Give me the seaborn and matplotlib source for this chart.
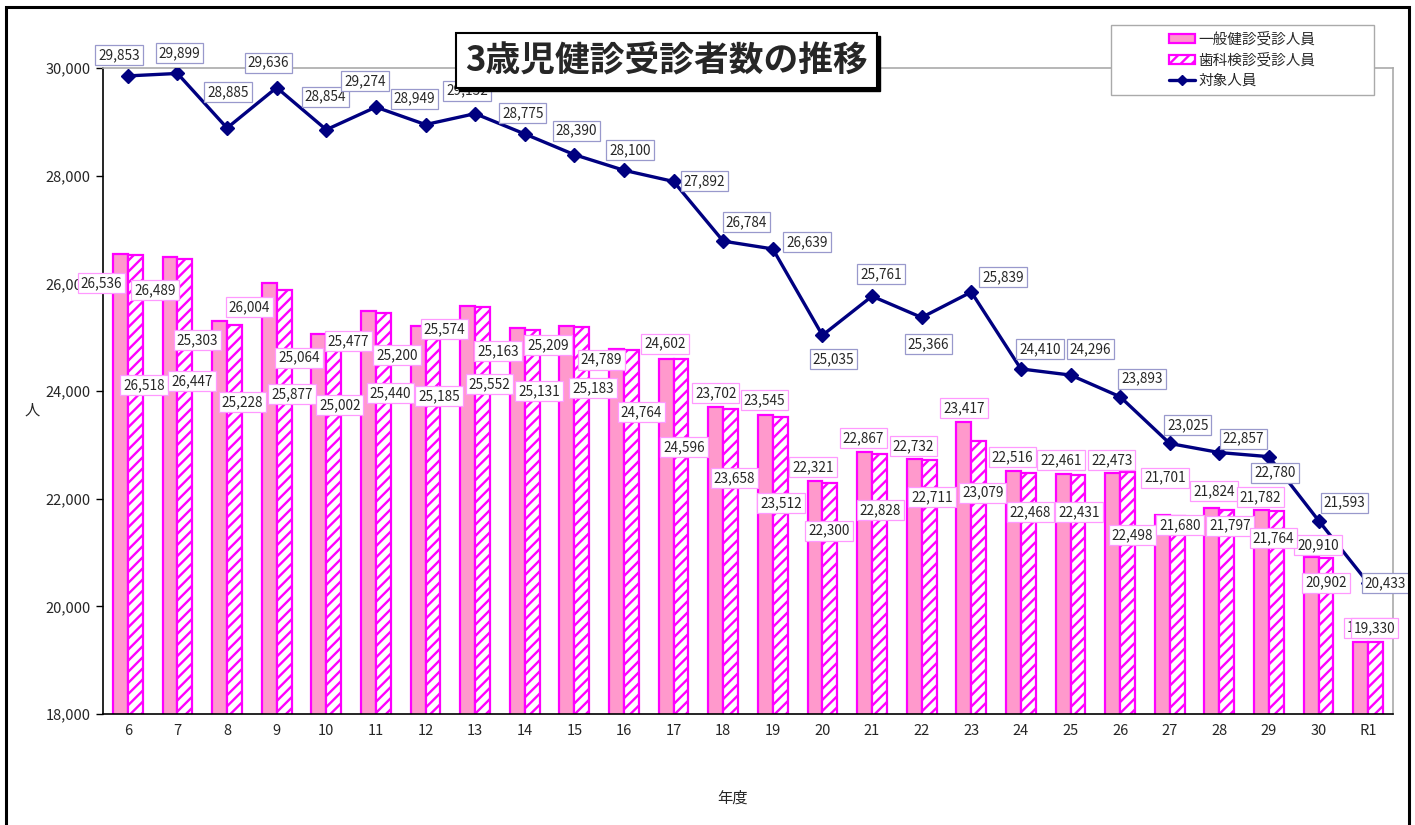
import numpy as np
import pandas as pd
import matplotlib.pyplot as plt
import matplotlib.patches as mpatches
from matplotlib.lines import Line2D
import seaborn as sns

# data
years = ["6", "7", "8", "9", "10", "11", "12", "13", "14", "15", "16", "17", "18",
         "19", "20", "21", "22", "23", "24", "25", "26", "27", "28", "29", "30", "R1"]
general = [26536, 26489, 25303, 26004, 25064, 25477, 25200, 25574, 25163, 25209,
           24789, 24602, 23702, 23545, 22321, 22867, 22732, 23417, 22516, 22461,
           22473, 21701, 21824, 21782, 20910, 19345]
dental = [26518, 26447, 25228, 25877, 25002, 25440, 25185, 25552, 25131, 25183,
          24764, 24596, 23658, 23512, 22300, 22828, 22711, 23079, 22468, 22431,
          22498, 21680, 21797, 21764, 20902, 19330]
target = [29853, 29899, 28885, 29636, 28854, 29274, 28949, 29152, 28775, 28390,
          28100, 27892, 26784, 26639, 25035, 25761, 25366, 25839, 24410, 24296,
          23893, 23025, 22857, 22780, 21593, 20433]

names = ["一般健診受診人員", "歯科検診受診人員", "対象人員"]

# label offsets in pixels (dx, dy up) from each point, as placed in the original
gen_off = [(-19, -29), (-15, -33), (-22, -19), (-20, -24), (-20, -24), (-20, -30),
           (-21, -29), (-23, -23), (-19, -23), (-19, -19), (-15, -11), (-1, 15),
           (0, 14), (-1, 15), (-2, 14), (-1, 14), (-1, 13), (0, 14), (-1, 14),
           (-2, 14), (-1, 13), (3, 37), (2, 17), (-1, 13), (7, 12), (7, 14)]
den_off = [(9, -130), (7, -122), (8, -77), (8, -104), (6, -68), (7, -80), (6, -69),
           (7, -77), (7, -61), (11, -61), (10, -62), (3, -88), (4, -69), (1, -86),
           (-1, -48), (1, -56), (3, -37), (4, -52), (2, -39), (1, -37), (5, -63),
           (3, -9), (3, -16), (-3, -27), (0, -25), (-1, 14)]
tgt_off = [(-9, 21), (2, 20), (1, 36), (-8, 25), (-1, 33), (-11, 26), (-11, 26),
           (-8, 23), (-2, 21), (2, 24), (6, 20), (31, 0), (23, 19), (34, 7),
           (11, -24), (9, 22), (7, -27), (32, 15), (19, 20), (20, 26), (22, 18),
           (18, 18), (24, 14), (6, -16), (26, 18), (17, 0)]

pink = "#FF99CC"
magenta = "#FF00FF"
navy = "#000080"

sns.set_style("white")
plt.rcParams["font.family"] = ["Noto Sans CJK JP", "DejaVu Sans"]
plt.rcParams["hatch.color"] = magenta
plt.rcParams["hatch.linewidth"] = 1.7

df = pd.DataFrame({
    "年度": years * 2,
    "人数": general + dental,
    "区分": [names[0]] * len(years) + [names[1]] * len(years),
})

fig = plt.figure(figsize=(14.15, 8.25), dpi=100)
ax = fig.add_axes([103 / 1415, 1 - 714 / 825, 1290 / 1415, 646 / 825])

sns.barplot(data=df, x="年度", y="人数", hue="区分", order=years,
            hue_order=names[:2], palette=[pink, "white"], saturation=1,
            width=0.6, gap=0, edgecolor=magenta, linewidth=1.6,
            legend=False, ax=ax)
for bar in ax.containers[1]:
    bar.set_facecolor("white")
    bar.set_hatch("///")
    bar.set_edgecolor(magenta)

x = np.arange(len(years))
ax.plot(x, target, color=navy, lw=2.4, marker="D", ms=7, zorder=5)

ax.set_ylim(18000, 30000)
ax.set_xlim(-0.5, len(years) - 0.5)
ax.set_yticks(range(18000, 30001, 2000))
ax.set_yticklabels([f"{t:,}" for t in range(18000, 30001, 2000)])
ax.set_xlabel("")
ax.set_ylabel("")
ax.set_xticks(x - 0.5, minor=True)
ax.tick_params(axis="x", which="major", length=0, pad=7, labelsize=10.5)
ax.tick_params(axis="x", which="minor", direction="in", length=5, color="#999999")
ax.tick_params(axis="y", direction="out", length=5, width=1, color="black",
               pad=4, labelsize=10.5, left=True)
for side in ["left", "bottom"]:
    ax.spines[side].set_color("black")
    ax.spines[side].set_linewidth(1.2)
for side in ["top", "right"]:
    ax.spines[side].set_color("#aaaaaa")
    ax.spines[side].set_linewidth(1.2)


def put_labels(xs, vals, offs, edge, z):
    for xv, v, (dx, dy) in zip(xs, vals, offs):
        ax.annotate(f"{v:,}", (xv, v), xytext=(dx, dy), textcoords="offset pixels",
                    ha="center", va="center", fontsize=9.8, zorder=z,
                    bbox=dict(boxstyle="square,pad=0.22", fc="white", ec=edge, lw=0.9))


gx = [b.get_x() + b.get_width() / 2 for b in ax.containers[0]]
dx_ = [b.get_x() + b.get_width() / 2 for b in ax.containers[1]]
put_labels(gx, general, gen_off, "#FF99FF", 6)
put_labels(dx_, dental, den_off, "#FF99FF", 7)
put_labels(x, target, tgt_off, "#9999CC", 8)

# outer frame
fig.patches.append(mpatches.Rectangle((6 / 1415, -0.1), 1403 / 1415, 1 - 7 / 825 + 0.1,
                                      transform=fig.transFigure, fill=False,
                                      ec="black", lw=2.2))

# title box with shadow
fig.patches.append(mpatches.Rectangle((459 / 1415, 1 - 91 / 825), 421 / 1415, 55 / 825,
                                      transform=fig.transFigure, fc="black", ec="black",
                                      zorder=10))
fig.patches.append(mpatches.Rectangle((456 / 1415, 1 - 88 / 825), 421 / 1415, 55 / 825,
                                      transform=fig.transFigure, fc="white", ec="black",
                                      lw=1.5, zorder=11))
fig.text(666.5 / 1415, 1 - 61 / 825, "3歳児健診受診者数の推移", ha="center", va="center",
         fontsize=25, fontweight="bold", zorder=12)

# legend box
fig.patches.append(mpatches.Rectangle((1111 / 1415, 1 - 95 / 825), 263 / 1415, 70 / 825,
                                      transform=fig.transFigure, fc="white", ec="#aaaaaa",
                                      lw=1, zorder=10))
handles = [
    mpatches.Patch(facecolor=pink, edgecolor=magenta, lw=1.6),
    mpatches.Patch(facecolor="white", edgecolor=magenta, lw=1.6, hatch="///"),
    Line2D([], [], color=navy, lw=2.4, marker="D", ms=5),
]
leg = fig.legend(handles, names, loc="center", bbox_to_anchor=(1242 / 1415, 1 - 60 / 825),
                 frameon=False, fontsize=10.5, handlelength=1.8, handleheight=0.6,
                 handletextpad=0.2, labelspacing=0.45)
leg.set_zorder(12)

fig.text(32 / 1415, 1 - 410 / 825, "人", ha="center", va="center", fontsize=11)
fig.text(733 / 1415, 1 - 798 / 825, "年度", ha="center", va="center", fontsize=11)

fig.savefig("out.png", dpi=100)
